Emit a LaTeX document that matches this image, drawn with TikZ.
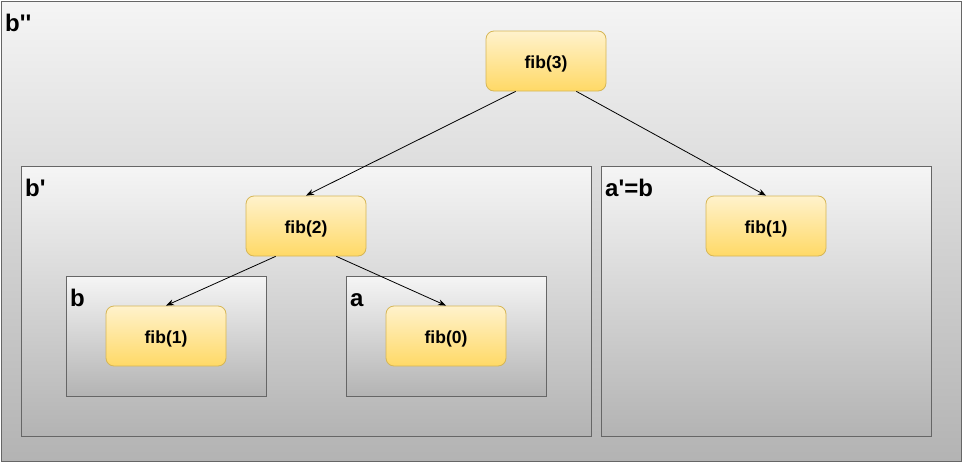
\documentclass[tikz,border=0pt]{standalone}
\usepackage{fontspec}
\setmainfont{Liberation Sans}
\usetikzlibrary{positioning}
\usetikzlibrary{arrows.meta}
\definecolor{frameline}{HTML}{666666}
\definecolor{frametop}{HTML}{F5F5F5}
\definecolor{framebot}{HTML}{B3B3B3}
\definecolor{fibline}{HTML}{D6B656}
\definecolor{fibtop}{HTML}{FFF2CC}
\definecolor{fibbot}{HTML}{FFD966}
\newcommand{\sq}{\textquotesingle}
\tikzset{
        % Call frames
        frame/.style={rectangle, anchor=north west, inner sep=0pt, draw=frameline, line width=1pt,
                top color=frametop, bottom color=framebot},
        % Frame labels
        frame_label/.style={anchor=base west, inner sep=0pt, font=\bfseries\fontsize{24}{28}\selectfont},
        % Calls
        call/.style={rectangle, rounded corners=8pt, draw=fibline, line width=0.8pt,
                top color=fibtop, bottom color=fibbot, minimum width=120pt, minimum height=60pt,
                text height=14pt, text depth=0pt,
                font=\bfseries\fontsize{17.5}{20}\selectfont},
        % Call edges
        call_edge/.style={-{Stealth[length=8pt,width=6pt]}, line width=0.8pt, black}
}
\begin{document}
\begin{tikzpicture}[x=1pt, y=-1pt]
        \useasboundingbox (0,0) rectangle (963,463);
        % frames
        \node[frame, minimum width=960pt, minimum height=460pt] (fr3) at (1,1) {};
        \node[frame, minimum width=570pt, minimum height=270pt] (fr2) at (21,166) {};
        \node[frame, minimum width=330pt, minimum height=270pt] (fr1) at (601,166) {};
        \node[frame, minimum width=200pt, minimum height=120pt] (frb) at (66,276) {};
        \node[frame, minimum width=200pt, minimum height=120pt] (fra) at (346,276) {};
        \node[frame_label] (lab3) at ([xshift=4pt,yshift=-30pt]fr3.north west) {b\sq\sq};
        \node[frame_label] (lab2) at ([xshift=4pt,yshift=-30pt]fr2.north west) {b\sq};
        \node[frame_label] (lab1) at ([xshift=4pt,yshift=-30pt]fr1.north west) {a\sq=b};
        \node[frame_label] (labb) at ([xshift=4pt,yshift=-30pt]frb.north west) {b};
        \node[frame_label] (laba) at ([xshift=4pt,yshift=-30pt]fra.north west) {a};
        % calls
        \node[call] (fib3) at (546,61) {fib(3)};
        \node[call] (fib2) at (306,226) {fib(2)};
        \node[call] (fib1r) at (766,226) {fib(1)};
        \node[call] (fib1l) at (166,336) {fib(1)};
        \node[call] (fib0) at (446,336) {fib(0)};
        % edges
        \draw[call_edge] ([xshift=30pt]fib3.south west) -- (fib2.north);
        \draw[call_edge] ([xshift=-30pt]fib3.south east) -- (fib1r.north);
        \draw[call_edge] ([xshift=30pt]fib2.south west) -- (fib1l.north);
        \draw[call_edge] ([xshift=-30pt]fib2.south east) -- (fib0.north);
\end{tikzpicture}
\end{document}
